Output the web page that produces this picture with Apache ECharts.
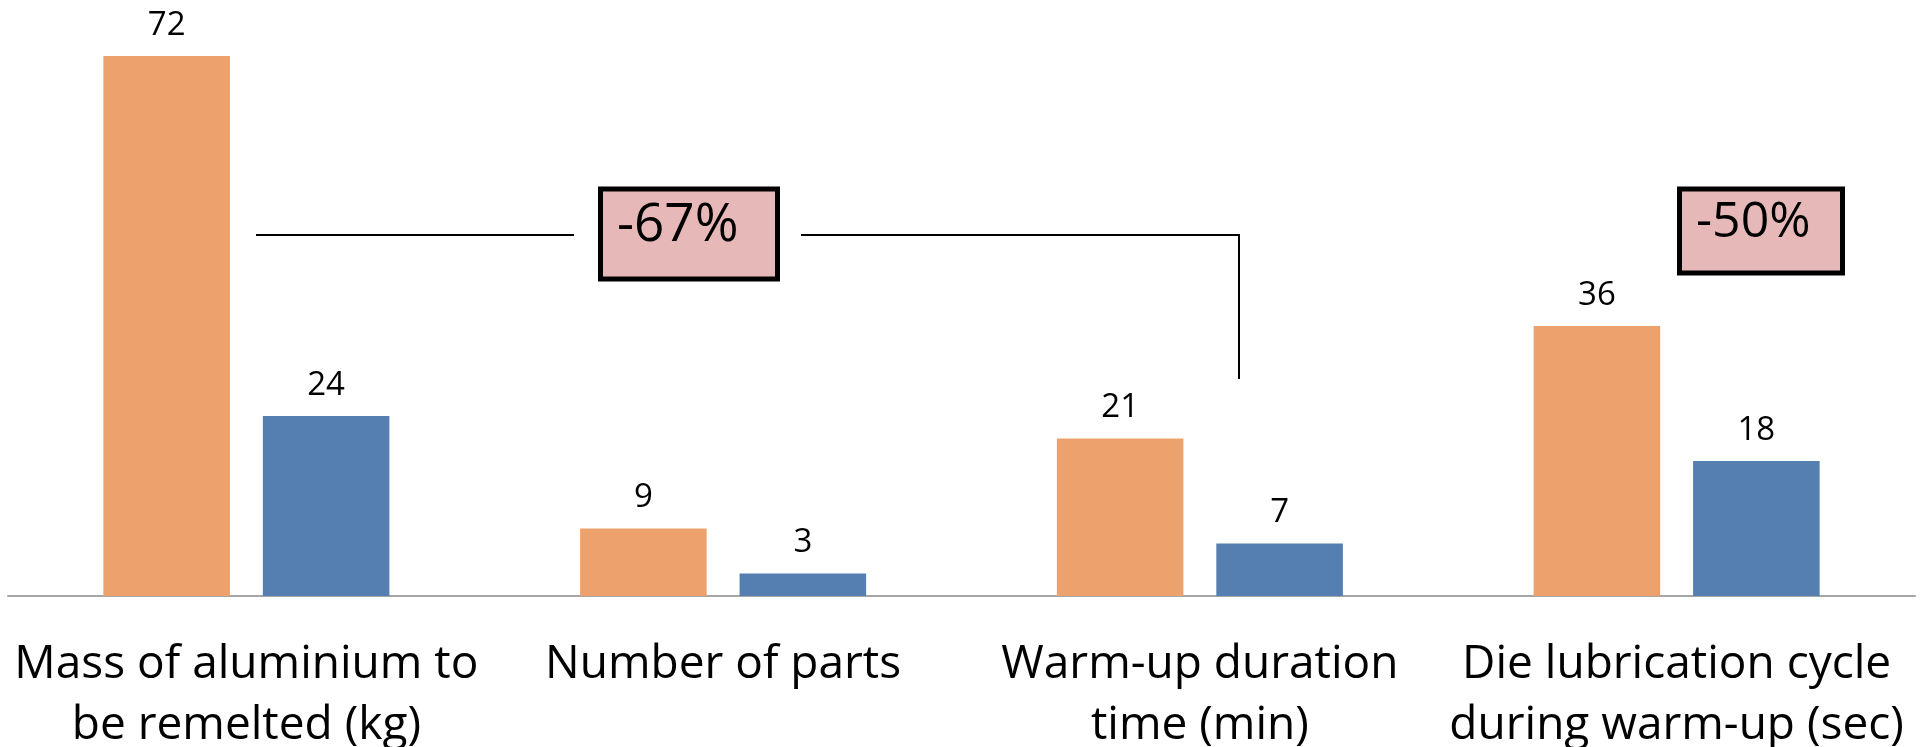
<!DOCTYPE html>
<html>
<head>
<meta charset="utf-8">
<script src="https://cdn.jsdelivr.net/npm/echarts@6/dist/echarts.min.js"></script>
<style>
html, body { margin: 0; padding: 0; background: #fff; }
#main { width: 1929px; height: 747px; }
</style>
</head>
<body>
<div id="main"></div>
<script>
var categories = ['Mass of aluminium to\nbe remelted (kg)', 'Number of parts', 'Warm-up duration\ntime (min)', 'Die lubrication cycle\nduring warm-up (sec)'];
var before = [72, 9, 21, 36];
var after = [24, 3, 7, 18];
var notes = ['-67%', '-50%'];

var dom = document.getElementById('main');
var myChart = echarts.init(dom);
var font = '"Open Sans", "Noto Sans", sans-serif';

var option = {
    animation: false,
    grid: {
        left: 8,
        right: 14,
        top: 56,
        bottom: 151,
        outerBoundsMode: 'none'
    },
    xAxis: {
        type: 'category',
        data: categories,
        axisLine: {
            lineStyle: {
                color: '#a6a6a6',
                width: 2
            }
        },
        axisTick: {
            show: false
        },
        axisLabel: {
            interval: 0,
            margin: 38,
            color: '#000',
            fontFamily: font,
            fontSize: 46,
            lineHeight: 61
        }
    },
    yAxis: {
        type: 'value',
        min: 0,
        max: 72,
        show: false,
        splitLine: {
            show: false
        }
    },
    series: [{
        type: 'bar',
        data: before,
        barGap: '26%',
        barCategoryGap: '40%',
        itemStyle: {
            color: '#eda26e'
        },
        label: {
            show: true,
            position: 'top',
            distance: 14,
            color: '#000',
            fontFamily: font,
            fontSize: 33
        }
    }, {
        type: 'bar',
        data: after,
        itemStyle: {
            color: '#557eb1'
        },
        label: {
            show: true,
            position: 'top',
            distance: 14,
            color: '#000',
            fontFamily: font,
            fontSize: 33
        }
    }],
    graphic: [
        // bracket linking first and third groups
        {
            type: 'polyline',
            shape: { points: [[256, 235], [574, 235]] },
            style: { stroke: '#000', lineWidth: 2, fill: null }
        },
        {
            type: 'polyline',
            shape: { points: [[801, 235], [1239, 235], [1239, 379]] },
            style: { stroke: '#000', lineWidth: 2, fill: null }
        },
        {
            type: 'rect',
            shape: { x: 600.5, y: 189, width: 177, height: 90 },
            style: { fill: '#e6b8b7', stroke: '#000', lineWidth: 5 }
        },
        {
            type: 'text',
            left: 617,
            top: 199,
            style: { text: notes[0], fill: '#000', font: '53px ' + font }
        },
        {
            type: 'rect',
            shape: { x: 1679.5, y: 189, width: 163, height: 84 },
            style: { fill: '#e6b8b7', stroke: '#000', lineWidth: 5 }
        },
        {
            type: 'text',
            left: 1696,
            top: 198,
            style: { text: notes[1], fill: '#000', font: '50px ' + font }
        }
    ]
};

myChart.setOption(option);
</script>
</body>
</html>
